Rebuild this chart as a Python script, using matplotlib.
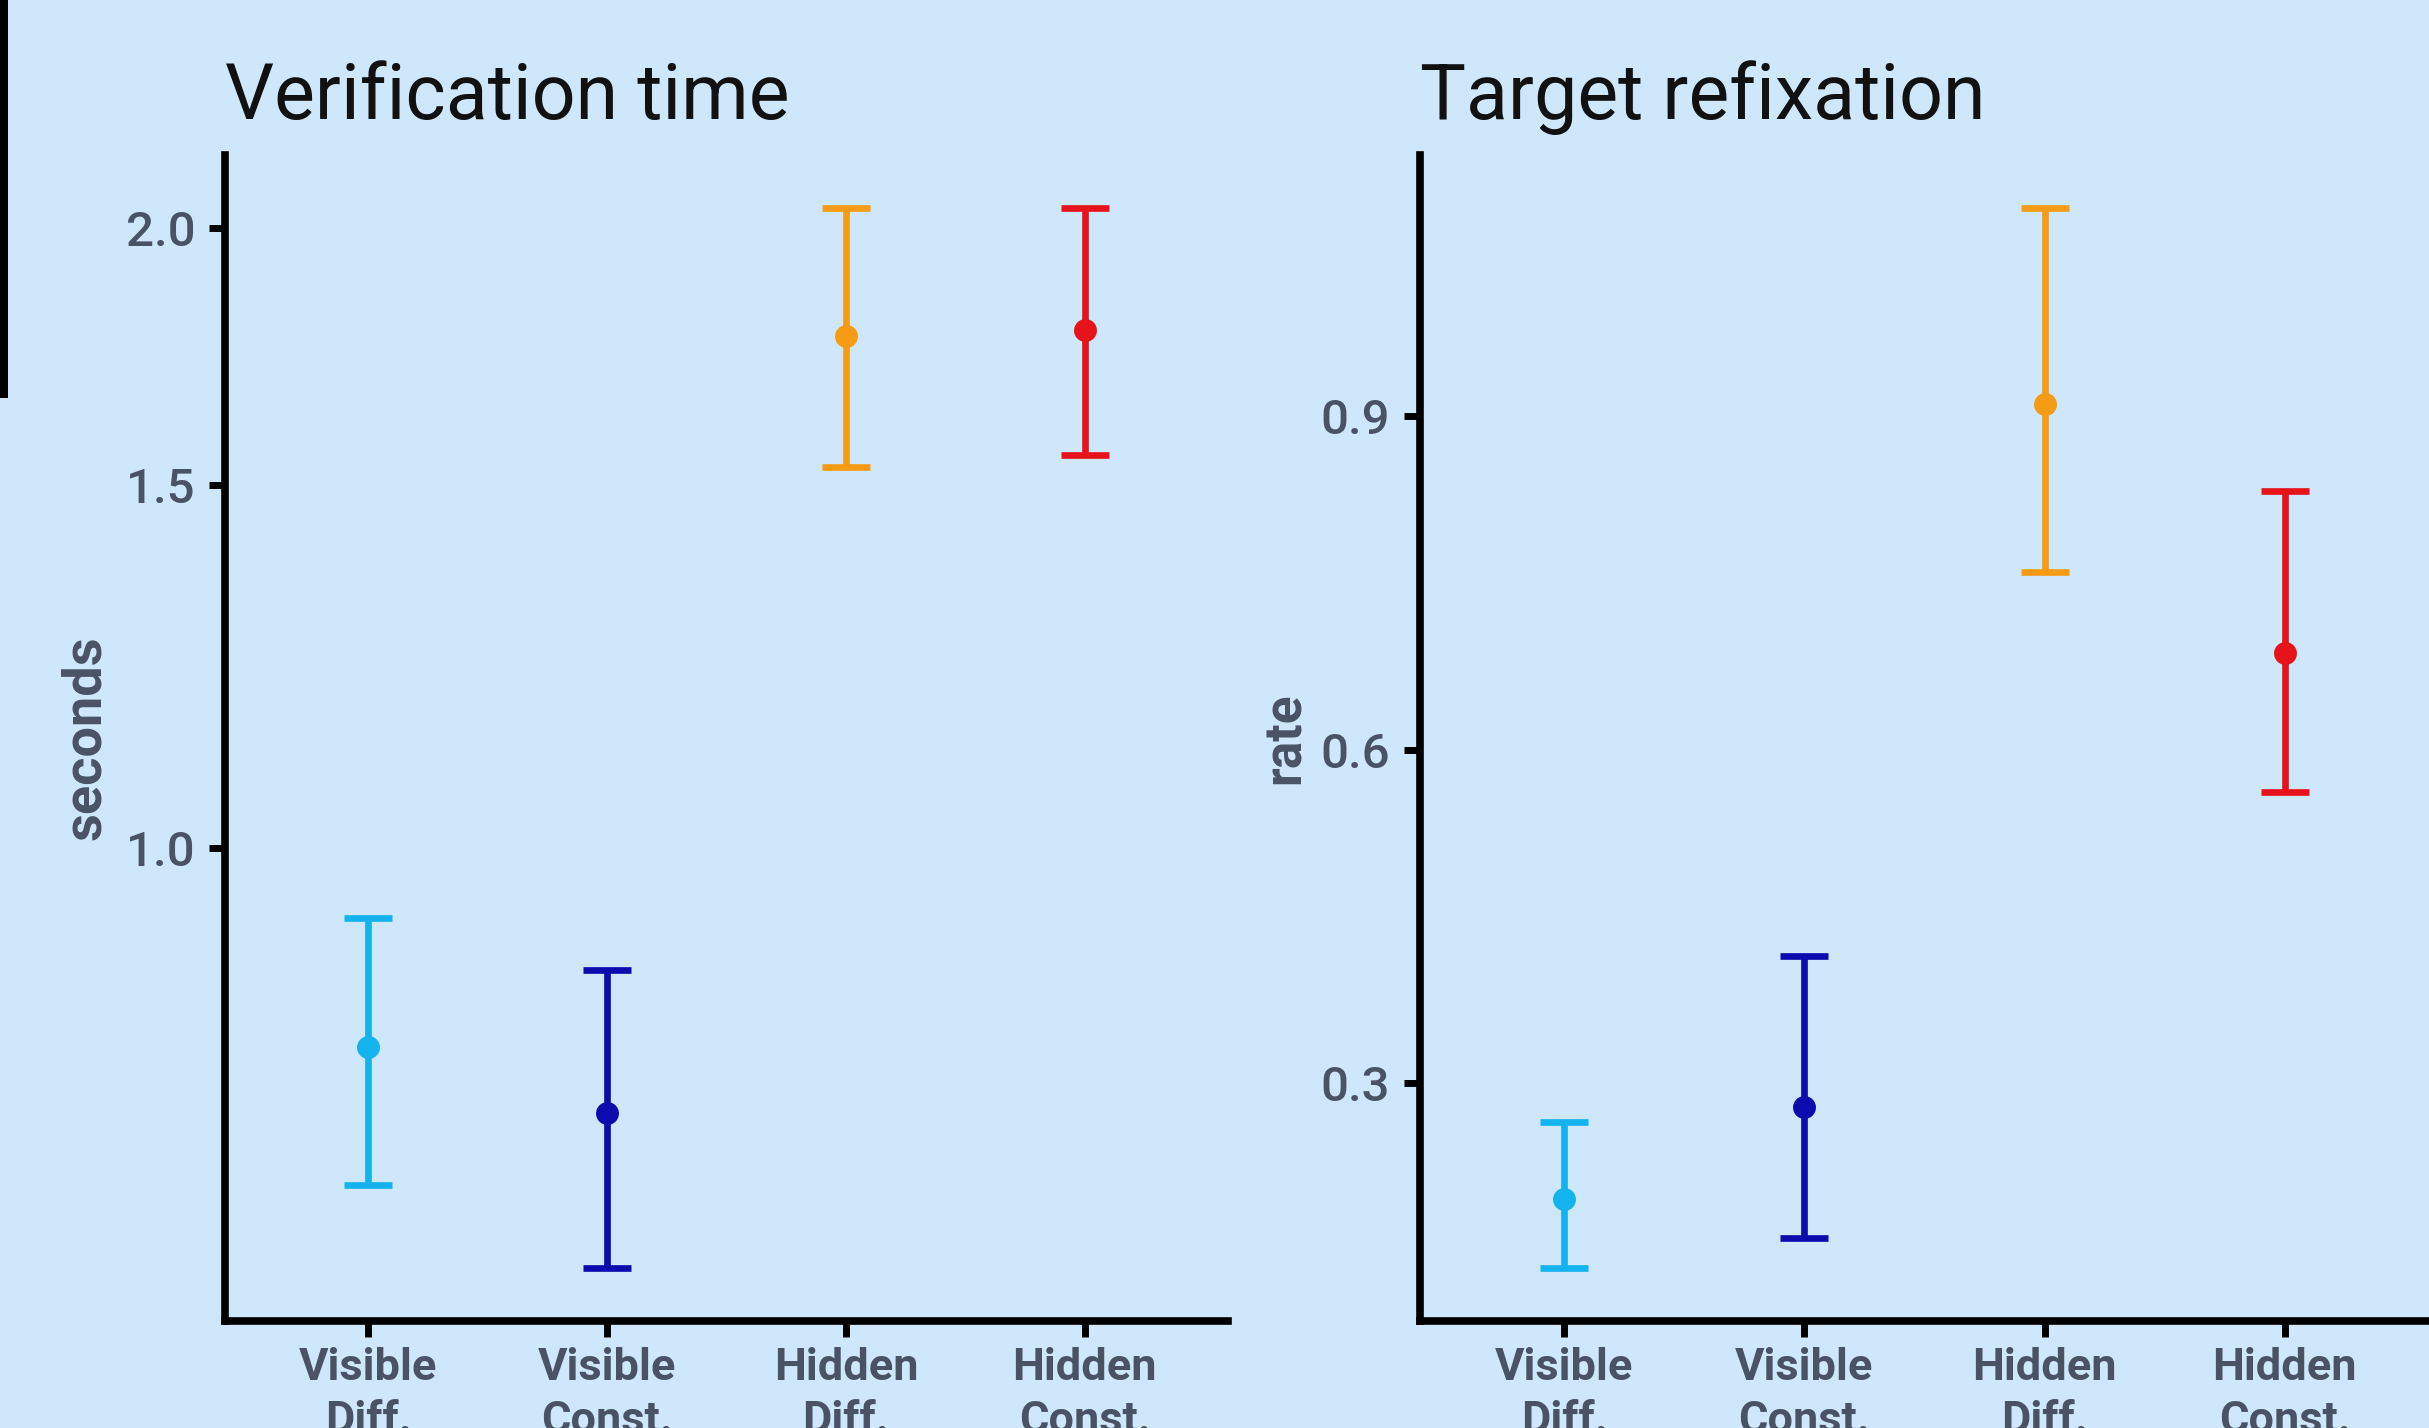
import matplotlib
matplotlib.use('Agg')
import matplotlib.pyplot as plt
import numpy as np
from matplotlib.patches import Rectangle

# ---------------- data ----------------
categories = ["Visible\nDiff.", "Visible\nConst.", "Hidden\nDiff.", "Hidden\nConst."]
colors = ['#14B3EE', '#0B0BAE', '#F59B14', '#E8121B']

time_mean = [0.800, 0.743, 1.772, 1.784]
time_low = [0.686, 0.625, 1.530, 1.551]
time_high = [0.924, 0.872, 2.045, 2.045]
time_ticks = [1.0, 1.5, 2.0]

refix_mean = [0.196, 0.279, 0.911, 0.6875]
refix_low = [0.134, 0.161, 0.760, 0.5625]
refix_high = [0.265, 0.415, 1.0875, 0.833]
refix_ticks = [0.3, 0.6, 0.9]

# ---------------- style ----------------
plt.rcParams['font.family'] = ['Roboto', 'DejaVu Sans']
BG = '#CFE7FB'
TXT = '#4A5366'
W, H = 2429, 1428
DPI = 100

fig = plt.figure(figsize=(W / DPI, H / DPI), dpi=DPI, facecolor=BG)


def px(x0, y0, x1, y1):
    return [x0 / W, 1 - y1 / H, (x1 - x0) / W, (y1 - y0) / H]


def panel(rect, title, ylabel, label_x, label_size, mean, low, high, ticks, log):
    ax = fig.add_axes(rect)
    ax.set_facecolor(BG)
    x = np.arange(1, len(categories) + 1)
    if log:
        ax.set_yscale('log')
        lo, hi = np.log10(min(low)), np.log10(max(high))
        e = 0.05 * (hi - lo)
        ax.set_ylim(10 ** (lo - e), 10 ** (hi + e))
    else:
        lo, hi = min(low), max(high)
        e = 0.05 * (hi - lo)
        ax.set_ylim(lo - e, hi + e)
    ax.set_xlim(0.4, len(categories) + 0.6)
    lw = 4.8
    for xi, m, l, h, c in zip(x, mean, low, high, colors):
        ax.vlines(xi, l, h, color=c, lw=lw, capstyle='butt', zorder=3)
        ax.hlines([l, h], xi - 0.1, xi + 0.1, color=c, lw=lw, capstyle='butt', zorder=3)
        ax.plot([xi], [m], 'o', color=c, ms=16.5, mew=0, zorder=4)
    ax.set_yticks(ticks)
    ax.set_yticklabels([f"{t:.1f}" for t in ticks])
    ax.minorticks_off()
    ax.set_xticks(x)
    ax.set_xticklabels(categories, linespacing=1.33)
    for s in ['top', 'right']:
        ax.spines[s].set_visible(False)
    for s in ['left', 'bottom']:
        ax.spines[s].set_linewidth(5.5)
        ax.spines[s].set_color('black')
        ax.spines[s].set_capstyle('projecting')
    ax.tick_params(axis='both', length=11.5, width=5, color='black')
    ax.tick_params(axis='x', labelsize=32.5, labelcolor=TXT, pad=7)
    ax.tick_params(axis='y', labelsize=35.5, labelcolor=TXT, pad=10)
    for lab in ax.get_xticklabels():
        lab.set_fontweight('bold')
    for lab in ax.get_yticklabels():
        lab.set_fontweight('medium')
    ax.set_title(title, loc='left', fontsize=55.5, color='#111111', pad=26)
    fig.text(label_x / W, 1 - 738 / H, ylabel, rotation=90, ha='center', va='center',
             fontsize=label_size, fontweight='bold', color=TXT)
    return ax


panel(px(225, 155, 1228, 1321), "Verification time", "seconds", 86, 39,
      time_mean, time_low, time_high, time_ticks, True)
panel(px(1420, 155, 2429, 1321), "Target refixation", "rate", 1286, 37,
      refix_mean, refix_low, refix_high, refix_ticks, False)

# cropped neighbouring element at the left edge
fig.add_artist(Rectangle((0, 1 - 398 / H), 8 / W, 398 / H, transform=fig.transFigure,
                         facecolor='black', edgecolor='none'))

fig.savefig('out.png', dpi=DPI, facecolor=BG)
